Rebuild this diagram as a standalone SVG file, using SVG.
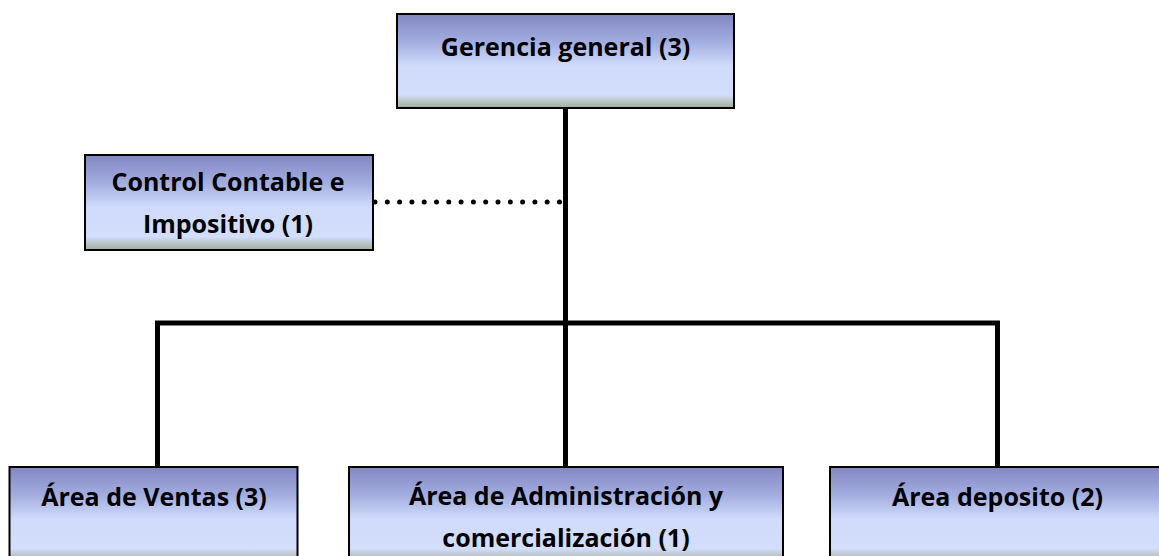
<svg xmlns="http://www.w3.org/2000/svg" width="1159" height="556" viewBox="0 0 1159 556">
  <style>
    .box { fill: url(#boxGrad); stroke: #000; stroke-width: 2; }
    .lbl { font-family: "Open Sans", "Liberation Sans", sans-serif; font-weight: 700; font-size: 25px; fill: #000; text-anchor: middle; }
    .solid { stroke: #000; stroke-width: 5; fill: none; }
    .dots { stroke: #000; stroke-width: 5; stroke-linecap: round; stroke-dasharray: 0 12.3; fill: none; }
  </style>
  <defs>
    <linearGradient id="boxGrad" x1="0" y1="0" x2="0" y2="1">
      <stop offset="0" stop-color="#8286c2"/>
      <stop offset="0.3" stop-color="#a3aee0"/>
      <stop offset="0.55" stop-color="#d0dbfb"/>
      <stop offset="0.86" stop-color="#d3defc"/>
      <stop offset="0.92" stop-color="#bcc8cc"/>
      <stop offset="1" stop-color="#9fae9c"/>
    </linearGradient>
  </defs>
  <rect width="1159" height="556" fill="#fff"/>

  <g id="connectors">
    <line class="solid" x1="565.5" y1="108" x2="565.5" y2="323"/>
    <line class="solid" x1="155" y1="323" x2="1000" y2="323"/>
    <line class="solid" x1="157.5" y1="321" x2="157.5" y2="467"/>
    <line class="solid" x1="565.5" y1="323" x2="565.5" y2="467"/>
    <line class="solid" x1="997.5" y1="321" x2="997.5" y2="467"/>
    <line class="dots" x1="375" y1="202" x2="560" y2="202"/>
  </g>

  <g id="gerencia">
    <rect class="box" x="397" y="14" width="337" height="94"/>
    <text class="lbl" x="565.5" y="56">Gerencia general (3)</text>
  </g>

  <g id="control">
    <rect class="box" x="85" y="155" width="288" height="95"/>
    <text class="lbl" x="228" y="191">Control Contable e</text>
    <text class="lbl" x="228" y="233">Impositivo (1)</text>
  </g>

  <g id="ventas">
    <rect class="box" x="9.5" y="467" width="288" height="95"/>
    <text class="lbl" x="154" y="506">Área de Ventas (3)</text>
  </g>

  <g id="administracion">
    <rect class="box" x="349" y="467" width="434" height="95"/>
    <text class="lbl" x="566" y="505">Área de Administración y</text>
    <text class="lbl" x="566" y="547">comercialización (1)</text>
  </g>

  <g id="deposito">
    <rect class="box" x="830" y="467" width="336" height="95"/>
    <text class="lbl" x="997.5" y="506">Área deposito (2)</text>
  </g>
</svg>
